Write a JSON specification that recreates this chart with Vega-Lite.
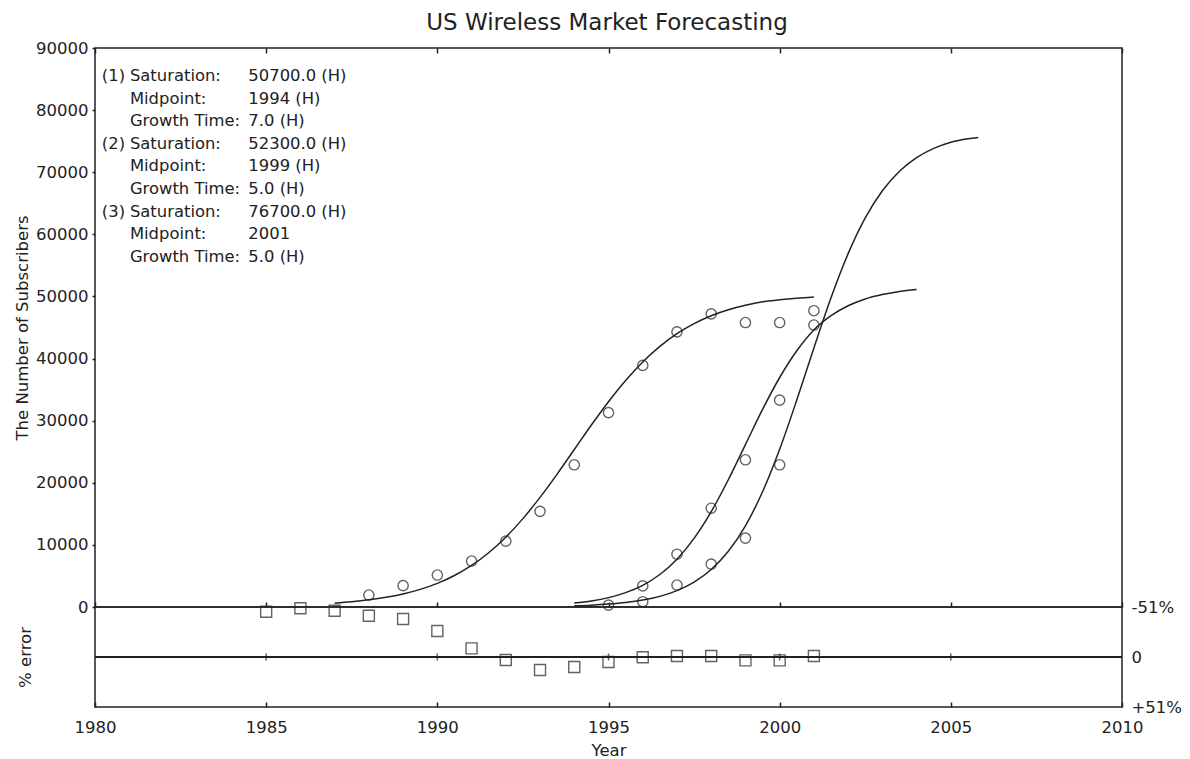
{
  "$schema": "https://vega.github.io/schema/vega-lite/v6.json",
  "padding": {"left": 13, "top": 12, "right": 5, "bottom": 2},
  "title": {"text": "US Wireless Market Forecasting", "anchor": "middle", "fontSize": 23, "font": "DejaVu Sans", "fontWeight": "normal", "color": "#222", "offset": 4, "dx": 9},
  "spacing": 0,
  "bounds": "flush",
  "config": {
    "view": {"stroke": "#222", "strokeWidth": 1.5},
    "font": "DejaVu Sans",
    "axis": {"labelFont": "DejaVu Sans", "labelFontSize": 16.5, "labelColor": "#222", "titleFont": "DejaVu Sans", "titleFontSize": 16.5, "titleFontWeight": "normal", "titleColor": "#222", "grid": false, "domain": false, "tickColor": "#222", "tickWidth": 1.5, "labelFlush": false, "labelOverlap": false}
  },
  "datasets": {
    "curves": [
      {"series": "1", "year": 1987, "value": 620}, {"series": "1", "year": 1987.5, "value": 840}, {"series": "1", "year": 1988, "value": 1150}, {"series": "1", "year": 1988.5, "value": 1560}, {"series": "1", "year": 1989, "value": 2110}, {"series": "1", "year": 1989.5, "value": 2840}, {"series": "1", "year": 1990, "value": 3810}, {"series": "1", "year": 1990.5, "value": 5070}, {"series": "1", "year": 1991, "value": 6690}, {"series": "1", "year": 1991.5, "value": 8740}, {"series": "1", "year": 1992, "value": 11240}, {"series": "1", "year": 1992.5, "value": 14230}, {"series": "1", "year": 1993, "value": 17650}, {"series": "1", "year": 1993.5, "value": 21400}, {"series": "1", "year": 1994, "value": 25350}, {"series": "1", "year": 1994.5, "value": 29300}, {"series": "1", "year": 1995, "value": 33050}, {"series": "1", "year": 1995.5, "value": 36470}, {"series": "1", "year": 1996, "value": 39460}, {"series": "1", "year": 1996.5, "value": 41960}, {"series": "1", "year": 1997, "value": 44010}, {"series": "1", "year": 1997.5, "value": 45630}, {"series": "1", "year": 1998, "value": 46890}, {"series": "1", "year": 1998.5, "value": 47860}, {"series": "1", "year": 1999, "value": 48590}, {"series": "1", "year": 1999.5, "value": 49140}, {"series": "1", "year": 2000, "value": 49450}, {"series": "1", "year": 2000.5, "value": 49700}, {"series": "1", "year": 2001, "value": 49900},
      {"series": "2", "year": 1994, "value": 640}, {"series": "2", "year": 1994.5, "value": 980}, {"series": "2", "year": 1995, "value": 1510}, {"series": "2", "year": 1995.5, "value": 2310}, {"series": "2", "year": 1996, "value": 3490}, {"series": "2", "year": 1996.5, "value": 5230}, {"series": "2", "year": 1997, "value": 7690}, {"series": "2", "year": 1997.5, "value": 11040}, {"series": "2", "year": 1998, "value": 15350}, {"series": "2", "year": 1998.5, "value": 20490}, {"series": "2", "year": 1999, "value": 26150}, {"series": "2", "year": 1999.5, "value": 31810}, {"series": "2", "year": 2000, "value": 36950}, {"series": "2", "year": 2000.5, "value": 41260}, {"series": "2", "year": 2001, "value": 44610}, {"series": "2", "year": 2001.5, "value": 46900}, {"series": "2", "year": 2002, "value": 48500}, {"series": "2", "year": 2002.5, "value": 49600}, {"series": "2", "year": 2003, "value": 50300}, {"series": "2", "year": 2003.5, "value": 50800}, {"series": "2", "year": 2004, "value": 51100},
      {"series": "3", "year": 1994, "value": 190}, {"series": "3", "year": 1994.5, "value": 300}, {"series": "3", "year": 1995, "value": 470}, {"series": "3", "year": 1995.5, "value": 720}, {"series": "3", "year": 1996, "value": 1110}, {"series": "3", "year": 1996.5, "value": 1710}, {"series": "3", "year": 1997, "value": 2630}, {"series": "3", "year": 1997.5, "value": 4000}, {"series": "3", "year": 1998, "value": 6030}, {"series": "3", "year": 1998.5, "value": 8970}, {"series": "3", "year": 1999, "value": 13080}, {"series": "3", "year": 1999.5, "value": 18550}, {"series": "3", "year": 2000, "value": 25400}, {"series": "3", "year": 2000.5, "value": 33320}, {"series": "3", "year": 2001, "value": 41710}, {"series": "3", "year": 2001.5, "value": 49790}, {"series": "3", "year": 2002, "value": 56890}, {"series": "3", "year": 2002.5, "value": 62640}, {"series": "3", "year": 2003, "value": 67010}, {"series": "3", "year": 2003.5, "value": 70160}, {"series": "3", "year": 2004, "value": 72350}, {"series": "3", "year": 2004.5, "value": 73840}, {"series": "3", "year": 2005, "value": 74840}, {"series": "3", "year": 2005.5, "value": 75400}, {"series": "3", "year": 2005.8, "value": 75600}
    ],
    "observed": [
      {"series": "1", "year": 1988, "value": 1930}, {"series": "1", "year": 1989, "value": 3430}, {"series": "1", "year": 1990, "value": 5150}, {"series": "1", "year": 1991, "value": 7400}, {"series": "1", "year": 1992, "value": 10600}, {"series": "1", "year": 1993, "value": 15400}, {"series": "1", "year": 1994, "value": 22900}, {"series": "1", "year": 1995, "value": 31300}, {"series": "1", "year": 1996, "value": 38900}, {"series": "1", "year": 1997, "value": 44300}, {"series": "1", "year": 1998, "value": 47200}, {"series": "1", "year": 1999, "value": 45800}, {"series": "1", "year": 2000, "value": 45800}, {"series": "1", "year": 2001, "value": 47700},
      {"series": "2", "year": 1995, "value": 300}, {"series": "2", "year": 1996, "value": 3400}, {"series": "2", "year": 1997, "value": 8500}, {"series": "2", "year": 1998, "value": 15900}, {"series": "2", "year": 1999, "value": 23700}, {"series": "2", "year": 2000, "value": 33300}, {"series": "2", "year": 2001, "value": 45400},
      {"series": "3", "year": 1996, "value": 850}, {"series": "3", "year": 1997, "value": 3540}, {"series": "3", "year": 1998, "value": 6900}, {"series": "3", "year": 1999, "value": 11100}, {"series": "3", "year": 2000, "value": 22900}
    ],
    "errors": [
      {"year": 1985, "pct": -46.2}, {"year": 1986, "pct": -49.7}, {"year": 1987, "pct": -47.2}, {"year": 1988, "pct": -42.1}, {"year": 1989, "pct": -38.8}, {"year": 1990, "pct": -26.5}, {"year": 1991, "pct": -8.8}, {"year": 1992, "pct": 3.1}, {"year": 1993, "pct": 13.3}, {"year": 1994, "pct": 10.2}, {"year": 1995, "pct": 5.1}, {"year": 1996, "pct": 0.3}, {"year": 1997, "pct": -1.0}, {"year": 1998, "pct": -1.0}, {"year": 1999, "pct": 3.4}, {"year": 2000, "pct": 3.4}, {"year": 2001, "pct": -1.0}
    ],
    "zeroTicks": [{"year": 1985}, {"year": 1990}, {"year": 1995}, {"year": 2000}, {"year": 2005}],
    "notes": [
      {"tag1": "(1)", "tag2": "(2)", "tag3": "(3)", "labels": "Saturation:\nMidpoint:\nGrowth Time:\nSaturation:\nMidpoint:\nGrowth Time:\nSaturation:\nMidpoint:\nGrowth Time:", "values": "50700.0 (H)\n1994 (H)\n7.0 (H)\n52300.0 (H)\n1999 (H)\n5.0 (H)\n76700.0 (H)\n2001\n5.0 (H)"}
    ]
  },
  "vconcat": [
    {
      "width": 1027,
      "height": 559,
      "resolve": {"axis": {"x": "independent", "y": "independent"}},
      "layer": [
        {
          "data": {"name": "curves"},
          "mark": {"type": "line", "interpolate": "monotone", "color": "#222", "strokeWidth": 1.5},
          "encoding": {
            "x": {"field": "year", "type": "quantitative", "scale": {"domain": [1980, 2010], "nice": false, "zero": false}, "axis": {"orient": "top", "labels": false, "tickSize": -5, "values": [1980, 1985, 1990, 1995, 2000, 2005, 2010], "title": null}},
            "y": {"field": "value", "type": "quantitative", "scale": {"domain": [0, 90000], "nice": false}, "axis": {"orient": "left", "values": [0, 10000, 20000, 30000, 40000, 50000, 60000, 70000, 80000, 90000], "format": "d", "tickSize": 3, "labelPadding": 4, "title": "The Number of Subscribers", "titlePadding": 5}},
            "detail": {"field": "series"}
          }
        },
        {
          "data": {"name": "observed"},
          "mark": {"type": "point", "shape": "circle", "filled": false, "color": "#222", "strokeWidth": 1.4, "size": 105},
          "encoding": {
            "x": {"field": "year", "type": "quantitative", "axis": {"orient": "bottom", "labels": false, "tickSize": -5, "values": [1980, 1985, 1990, 1995, 2000, 2005, 2010], "title": null}},
            "y": {"field": "value", "type": "quantitative", "axis": null}
          }
        },
        {
          "data": {"name": "notes"},
          "mark": {"type": "text", "align": "left", "baseline": "alphabetic", "fontSize": 16.4, "font": "DejaVu Sans", "color": "#222"},
          "encoding": {
            "x": {"datum": 1980.2, "axis": null},
            "y": {"datum": 84700, "axis": null},
            "text": {"field": "tag1"}
          }
        },
        {
          "data": {"name": "notes"},
          "mark": {"type": "text", "align": "left", "baseline": "alphabetic", "fontSize": 16.4, "font": "DejaVu Sans", "color": "#222", "dy": 67.8},
          "encoding": {
            "x": {"datum": 1980.2, "axis": null},
            "y": {"datum": 84700, "axis": null},
            "text": {"field": "tag2"}
          }
        },
        {
          "data": {"name": "notes"},
          "mark": {"type": "text", "align": "left", "baseline": "alphabetic", "fontSize": 16.4, "font": "DejaVu Sans", "color": "#222", "dy": 135.6},
          "encoding": {
            "x": {"datum": 1980.2, "axis": null},
            "y": {"datum": 84700, "axis": null},
            "text": {"field": "tag3"}
          }
        },
        {
          "data": {"name": "notes"},
          "mark": {"type": "text", "align": "left", "baseline": "alphabetic", "lineBreak": "\n", "lineHeight": 22.6, "fontSize": 16.4, "font": "DejaVu Sans", "color": "#222"},
          "encoding": {
            "x": {"datum": 1981.02, "axis": null},
            "y": {"datum": 84700, "axis": null},
            "text": {"field": "labels"}
          }
        },
        {
          "data": {"name": "notes"},
          "mark": {"type": "text", "align": "left", "baseline": "alphabetic", "lineBreak": "\n", "lineHeight": 22.6, "fontSize": 16.4, "font": "DejaVu Sans", "color": "#222"},
          "encoding": {
            "x": {"datum": 1984.48, "axis": null},
            "y": {"datum": 84700, "axis": null},
            "text": {"field": "values"}
          }
        }
      ]
    },
    {
      "width": 1027,
      "height": 100,
      "resolve": {"axis": {"x": "independent", "y": "independent"}},
      "layer": [
        {
          "data": {"name": "errors"},
          "mark": {"type": "point", "shape": "square", "filled": false, "color": "#222", "strokeWidth": 1.4, "size": 121},
          "encoding": {
            "x": {"field": "year", "type": "quantitative", "scale": {"domain": [1980, 2010], "nice": false, "zero": false}, "axis": {"orient": "bottom", "tickSize": -5, "labelPadding": 17, "values": [1980, 1985, 1990, 1995, 2000, 2005, 2010], "format": "d", "title": "Year", "titlePadding": 7}},
            "y": {"field": "pct", "type": "quantitative", "scale": {"domain": [-51, 51], "reverse": true, "nice": false, "zero": false}, "axis": {"orient": "left", "labels": false, "ticks": false, "title": "% error", "titlePadding": 62}}
          }
        },
        {
          "data": {"name": "zeroTicks"},
          "mark": {"type": "rule", "color": "#222", "strokeWidth": 1.5},
          "encoding": {
            "y": {"datum": 0, "axis": {"orient": "right", "values": [-51, 0, 51], "labelExpr": "datum.value < 0 ? '-51%' : (datum.value > 0 ? '+51%' : '0')", "ticks": false, "labelPadding": 9, "title": null}}
          }
        },
        {
          "data": {"name": "zeroTicks"},
          "mark": {"type": "tick", "orient": "vertical", "size": 7, "thickness": 1.5, "color": "#222"},
          "encoding": {
            "x": {"field": "year", "type": "quantitative", "axis": null},
            "y": {"datum": 0, "axis": null}
          }
        }
      ]
    }
  ]
}
